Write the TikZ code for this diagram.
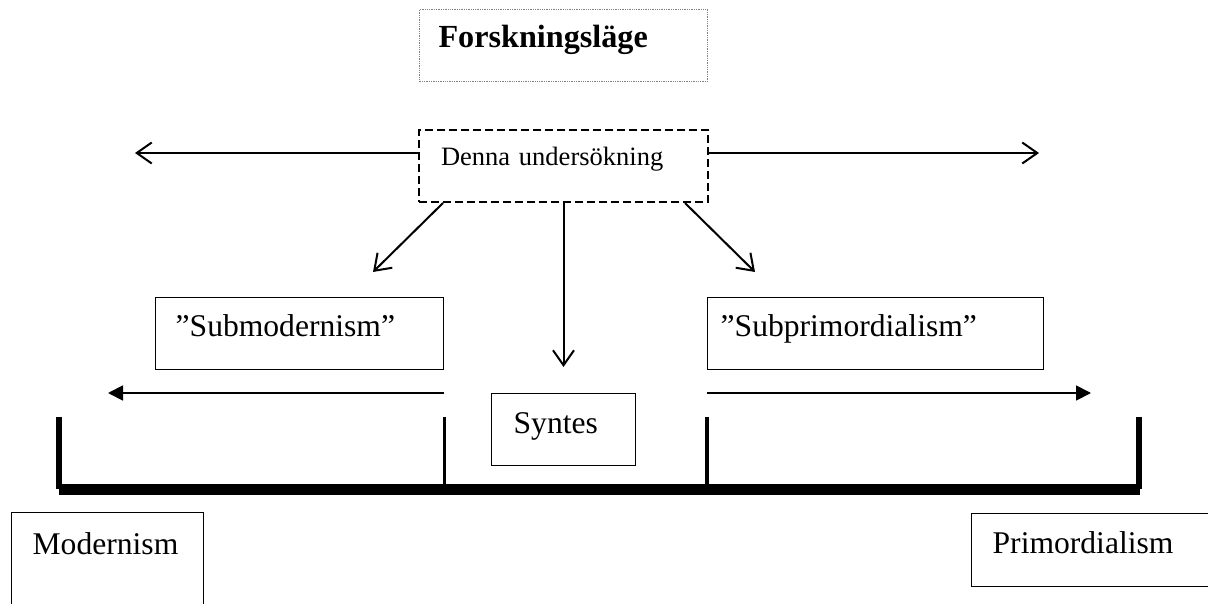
\documentclass[tikz,border=0pt]{standalone}
\usepackage{fontspec}
\setmainfont{Liberation Serif}
\usetikzlibrary{arrows.meta}

\tikzset{
    labelbox/.style={draw, line width=1.3pt, anchor=north west, inner ysep=0pt, align=left,
        font=\fontsize{31.6}{36}\selectfont},
    openarrow/.style={line width=2pt, -{Straight Barb[length=15pt,width=21pt]}},
    fullarrow/.style={line width=1.8pt, -{Triangle[length=15pt,width=15pt]}}
}

\begin{document}
\begin{tikzpicture}[x=1pt,y=-1pt]
                        \useasboundingbox (0,0) rectangle (1208,604);

                        % Title
                        \node[labelbox, draw=gray, densely dotted, line width=1pt, inner xsep=19pt,
                            text width=250pt, text height=38pt, text depth=34pt,
                            font=\bfseries\fontsize{32.2}{36}\selectfont] (forsk) at (419,9) {Forskningsläge};

                        % This study
                        \node[labelbox, dash pattern=on 8pt off 4pt, line width=2pt, inner xsep=22pt,
                            text width=245pt, text height=36pt, text depth=36pt,
                            font=\fontsize{26.5}{30}\selectfont] (denna) at (418,129) {Denna undersökning};

                        \coordinate (leftend) at (135,153);
                        \coordinate (rightend) at (1039,153);
                        \draw[openarrow] (leftend -| denna.west) -- (leftend);
                        \draw[openarrow] (rightend -| denna.east) -- (rightend);

                        \draw[openarrow] ([xshift=25pt]denna.south west) -- ++(-70,69);
                        \draw[openarrow] ([xshift=-24pt]denna.south east) -- ++(70,69);
                        \draw[openarrow] (denna.south) -- ++(0,164);

                        % Sub-positions
                        \node[labelbox, inner xsep=20pt, text width=248pt, text height=39pt, text depth=33pt]
                            (submod) at (155,297) {”Submodernism”};
                        \node[labelbox, inner xsep=13pt, text width=310pt, text height=39pt, text depth=33pt]
                            (subprim) at (707,297) {”Subprimordialism”};

                        \coordinate (farleft) at (108,393);
                        \coordinate (farright) at (1091,393);
                        \draw[fullarrow] (farleft -| submod.east) -- (farleft);
                        \draw[fullarrow] (farright -| subprim.west) -- (farright);

                        % Synthesis
                        \node[labelbox, inner xsep=22pt, text width=100pt, text height=40pt, text depth=32pt]
                            (syntes) at (491,393) {Syntes};

                        % Scale
                        \draw[line width=11pt] (59,489) -- (1140,489);
                        \draw[line width=6pt] (59,417) -- (59,489);
                        \draw[line width=6pt] (1139,417) -- (1139,489);
                        \draw[line width=3.5pt] (submod.east |- 0,417) -- (submod.east |- 0,484);
                        \draw[line width=3.5pt] (subprim.west |- 0,417) -- (subprim.west |- 0,484);

                        % Ends of the scale
                        \node[labelbox, inner xsep=21pt, text width=150pt, text height=42pt, text depth=70pt]
                            (modern) at (11,512) {Modernism};
                        \node[labelbox, inner xsep=21pt, text width=208pt, text height=40pt, text depth=33pt]
                            (primord) at (971,513) {Primordialism};
\end{tikzpicture}
\end{document}
